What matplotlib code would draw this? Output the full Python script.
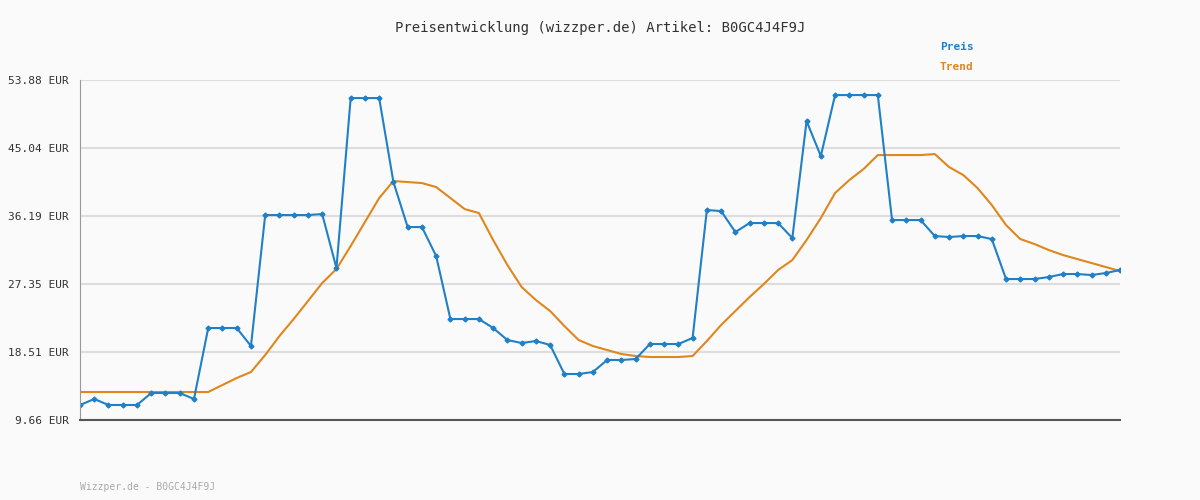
import numpy as np
import matplotlib.pyplot as plt

# pixel readings converted to EUR values
preis_px = [405, 399, 405, 405, 405, 393, 393, 393, 399, 328, 328, 328, 346, 215, 215, 215, 215, 214,
            268, 98, 98, 98, 182, 227, 227, 256, 319, 319, 319, 328, 340, 343, 341, 345, 374, 374,
            372, 360, 360, 359, 344, 344, 344, 338, 210, 211, 232, 223, 223, 223, 238, 121, 156,
            95, 95, 95, 95, 220, 220, 220, 236, 237, 236, 236, 239, 279, 279, 279, 277, 274, 274,
            275, 273, 270]
trend_px = [392] * 10 + [385, 378, 372, 355, 336, 319, 301, 283, 269, 246, 222, 198, 181, 182, 183,
            187, 198, 209, 213, 240, 265, 287, 300, 311, 326, 340, 346, 350, 354, 356, 357, 357,
            357, 356, 341, 325, 311, 297, 284, 270, 260, 240, 218, 193, 180, 169, 155, 155,
            155, 155, 154, 167, 175, 188, 205, 225, 239, 244, 250, 255, 259, 263, 267, 271]

ymin, ymax = 9.66, 53.88
preis = [ymin + (420 - p) * (ymax - ymin) / 340 for p in preis_px]
trend = [ymin + (420 - p) * (ymax - ymin) / 340 for p in trend_px]
ticks = [9.66, 18.51, 27.35, 36.19, 45.04, 53.88]

plt.rcParams['font.family'] = 'DejaVu Sans Mono'
fig = plt.figure(figsize=(12, 5), dpi=100, facecolor='#fafafa')
ax = fig.add_axes([80/1200, 80/500, 1040/1200, 340/500], facecolor='#fafafa')
x = np.arange(len(preis))
ax.plot(x, trend, color='#e0861c', lw=1.5)
ax.plot(x, preis, color='#1f80c8', lw=1.5, marker='D', ms=2.5)
ax.set_xlim(0, len(preis) - 1)
ax.set_ylim(ymin, ymax + 0.01)
ax.set_yticks(ticks)
ax.set_yticklabels([f'{t:.2f} EUR' for t in ticks], fontsize=8, color='#333333')
ax.set_xticks([])
ax.tick_params(axis='y', length=0, pad=8)
ax.grid(axis='y', color='#dddddd', lw=1.5)
ax.set_axisbelow(True)
for s in ['top', 'right']:
    ax.spines[s].set_visible(False)
ax.spines['left'].set_color('#999999')
ax.spines['bottom'].set_color('#555555')
ax.spines['bottom'].set_linewidth(1.5)

fig.text(0.5, 1 - 28/500, 'Preisentwicklung (wizzper.de) Artikel: B0GC4J4F9J', ha='center', va='center',
         fontsize=10, color='#333333')
fig.text(940/1200, 1 - 47/500, 'Preis', color='#1f80c8', fontsize=8, fontweight='bold', va='center')
fig.text(940/1200, 1 - 67/500, 'Trend', color='#e0861c', fontsize=8, fontweight='bold', va='center')
fig.text(80/1200, 1 - 487/500, 'Wizzper.de - B0GC4J4F9J', color='#aaaaaa', fontsize=7, va='center')

plt.savefig('out.png', dpi=100, facecolor='#fafafa')
